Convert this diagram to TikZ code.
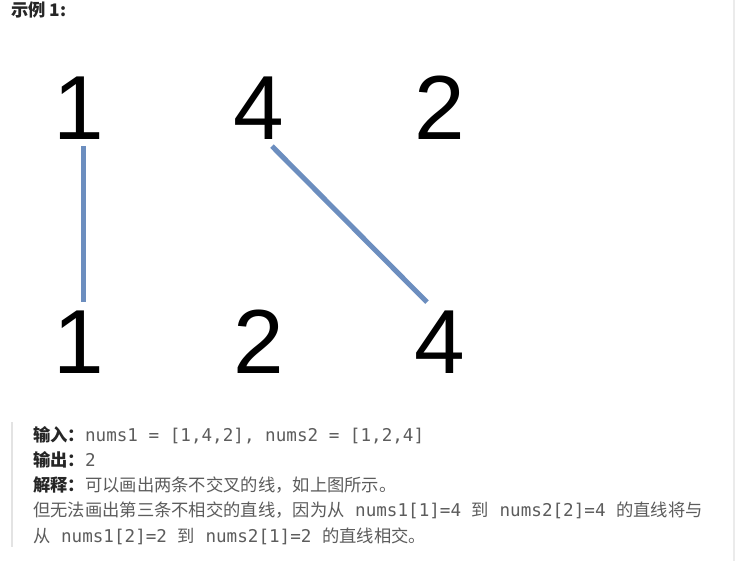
\documentclass[tikz,border=0pt]{standalone}
\usepackage{fontspec}
\setmainfont{Liberation Sans}
\newfontfamily\cjkfont{Noto Sans CJK SC}
\newfontfamily\codefont{DejaVu Sans Mono}
\usepackage{xcolor}
\usepackage{tikz}
\usetikzlibrary{positioning, calc}
\definecolor{linkblue}{HTML}{6C8EBF}
\definecolor{labeltext}{HTML}{262626}
\definecolor{bodytext}{HTML}{5C5C5C}
\definecolor{barline}{HTML}{E3E3E3}
\definecolor{edgeline}{HTML}{EBEBEB}
\newcommand{\zh}[1]{{\cjkfont\fontsize{17.3}{20}\selectfont #1}}
\newcommand{\code}[1]{{\codefont #1}}
\newcommand{\lbl}[1]{{\cjkfont\bfseries\fontsize{17.3}{20}\selectfont\color{labeltext}#1}}

\begin{document}
\begin{tikzpicture}[x=1pt, y=-1pt, every node/.style={inner sep=0pt, anchor=base west},
  digit/.style={anchor=base, font=\fontsize{91}{91}\selectfont},
  link/.style={draw=linkblue, line width=5pt},
  textline/.style={text=bodytext, font=\codefont\fontsize{17.6}{20}\selectfont}]
  \useasboundingbox (0,0) rectangle (735,561);
  \fill[white] (0,0) rectangle (735,561);
  \fill[edgeline] (733,0) rectangle (735,561);
  \node[font=\cjkfont\bfseries\fontsize{17.3}{20}\selectfont, text=labeltext] (title) at (11,16.5) {示例 1:};
  \node[digit] (t1) at (79,140)  {1};
  \node[digit] (t2) at (259,140) {4};
  \node[digit] (t3) at (440,140) {2};
  \node[digit] (b1) at (79,373)  {1};
  \node[digit] (b2) at (259,373) {2};
  \node[digit] (b3) at (440,373) {4};
  \draw[link] ([xshift=4pt,yshift=-6pt]t1.south) -- ([xshift=4pt,yshift=8pt]b1.north);
  \draw[link] ([xshift=13pt,yshift=-6pt]t2.south) -- ([xshift=-13pt,yshift=8pt]b3.north);
  \draw[barline, line width=1.5pt] (12,422) -- (12,547);
  \node[textline] (l1) at (33,441) {\lbl{输入：}\code{nums1 = [1,4,2], nums2 = [1,2,4]}};
  \node[textline] (l2) at (33,466) {\lbl{输出：}\code{2}};
  \node[textline] (l3) at (33,491) {\lbl{解释：}\zh{可以画出两条不交叉的线，如上图所示。}};
  \node[textline] (l4) at (33,516) {\zh{但无法画出第三条不相交的直线，因为从}\code{ nums1[1]=4 }\zh{到}\code{ nums2[2]=4 }\zh{的直线将与}};
  \node[textline] (l5) at (33,542) {\zh{从}\code{ nums1[2]=2 }\zh{到}\code{ nums2[1]=2 }\zh{的直线相交。}};
\end{tikzpicture}
\end{document}
